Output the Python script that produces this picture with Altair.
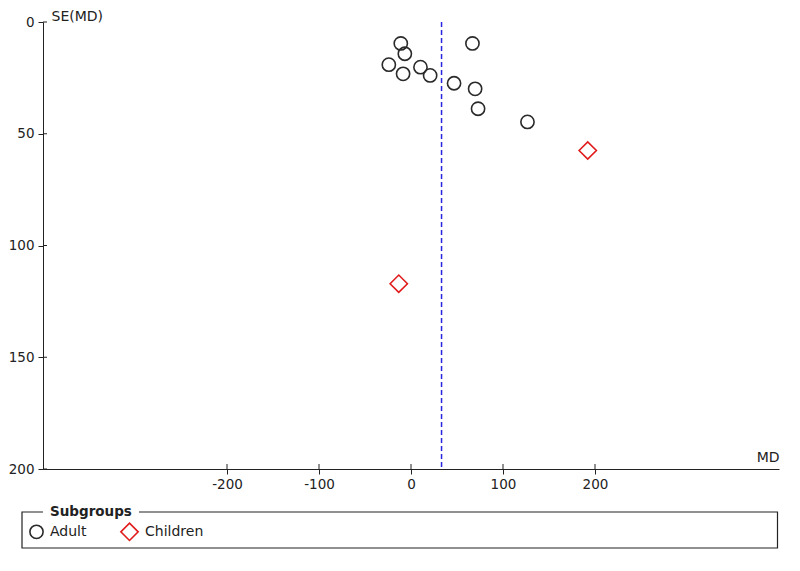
import altair as alt
import pandas as pd

# ---- data ----
adult_md = [-11.1, 66.8, -6.7, -24.1, 10.3, -8.6, 20.8, 46.8, 69.7, 72.9, 126.6]
adult_se = [9.6, 9.6, 14.2, 19.1, 20.2, 23.2, 23.9, 27.4, 29.9, 38.8, 44.7]
children_md = [192.1, -13.3]
children_se = [57.5, 117.1]
pooled_md = [33.2]
groups = ["Adult", "Children"]
x_ticks = [-200, -100, 0, 100, 200]
y_ticks = [0, 50, 100, 150, 200]

W, H = 736, 447
FONT = "DejaVu Sans"
TXT = "#222222"

pts = pd.DataFrame({
    "MD": adult_md + children_md,
    "SE": adult_se + children_se,
    "Subgroups": ["Adult"] * len(adult_md) + ["Children"] * len(children_md),
})

xs = alt.Scale(domain=[-400, 400], nice=False, zero=False)
ys = alt.Scale(domain=[0, 200], reverse=True, nice=False, zero=False)

points = alt.Chart(pts).mark_point(filled=False, strokeWidth=1.6, opacity=1).encode(
    x=alt.X("MD:Q", scale=xs, axis=alt.Axis(
        values=x_ticks, title="MD", titleX=W, titleY=-11.5, titleAlign="right",
        titleBaseline="middle", titleAnchor="end", titleFontWeight="normal",
        labelExpr="datum.value < 0 ? '-' + abs(datum.value) : '' + datum.value",
        tickSize=5, labelPadding=3, domainColor=TXT, tickColor=TXT,
        labelFont=FONT, labelFontSize=13.5, labelColor=TXT,
        titleFont=FONT, titleFontSize=14, titleColor=TXT, grid=False)),
    y=alt.Y("SE:Q", scale=ys, axis=alt.Axis(
        values=y_ticks, title="SE(MD)", titleAngle=0, titleX=8, titleY=-6,
        titleAlign="left", titleBaseline="middle", titleFontWeight="normal",
        tickSize=5, labelPadding=4, domainColor=TXT, tickColor=TXT,
        labelFont=FONT, labelFontSize=13.5, labelColor=TXT,
        titleFont=FONT, titleFontSize=14, titleColor=TXT, grid=False)),
    color=alt.Color("Subgroups:N", scale=alt.Scale(domain=groups, range=["#2a2a2a", "#e01b1b"]),
                    legend=alt.Legend(title=None, orient="none", direction="horizontal",
                                      legendX=-14, legendY=500, labelFont=FONT,
                                      labelFontSize=14, labelColor=TXT, labelOffset=6,
                                      columnPadding=30, symbolStrokeWidth=1.6, padding=0)),
    shape=alt.Shape("Subgroups:N", scale=alt.Scale(domain=groups, range=["circle", "diamond"])),
    size=alt.Size("Subgroups:N", scale=alt.Scale(domain=groups, range=[175, 300])),
)

pooled = alt.Chart(pd.DataFrame({"MD": pooled_md})).mark_rule(
    color="#2626e0", strokeDash=[5, 3], strokeWidth=1.5
).encode(x=alt.X("MD:Q", scale=xs), y=alt.value(0), y2=alt.value(H))

xtick_up = alt.Chart(pd.DataFrame({"t": x_ticks})).mark_rule(color=TXT).encode(
    x=alt.X("t:Q", scale=xs), y=alt.value(H - 5), y2=alt.value(H))
ytick_right = alt.Chart(pd.DataFrame({"t": y_ticks})).mark_rule(color=TXT).encode(
    y=alt.Y("t:Q", scale=ys), x=alt.value(0), x2=alt.value(4))

one = alt.Data(values=[{"a": 1}])
box = alt.Chart(one).mark_rect(fillOpacity=0, stroke=TXT, strokeWidth=1.2).encode(
    x=alt.value(-21), x2=alt.value(734.5), y=alt.value(490), y2=alt.value(526))
gap = alt.Chart(one).mark_rect(fill="white", stroke=None).encode(
    x=alt.value(0), x2=alt.value(96), y=alt.value(484), y2=alt.value(496))
title = alt.Chart(one).mark_text(
    text="Subgroups", font=FONT, fontSize=13.5, fontWeight="bold", color=TXT,
    align="left", baseline="middle"
).encode(x=alt.value(7), y=alt.value(490))

chart = alt.layer(box, gap, title, xtick_up, ytick_right, pooled, points).properties(
    width=W, height=H,
    autosize=alt.AutoSizeParams(type="none"),
    padding={"left": 35, "top": 14, "right": 13, "bottom": 85},
).configure_view(stroke=None).configure_axis(grid=False)

chart.save("out.html", embed_options={"renderer": "svg", "actions": False})
